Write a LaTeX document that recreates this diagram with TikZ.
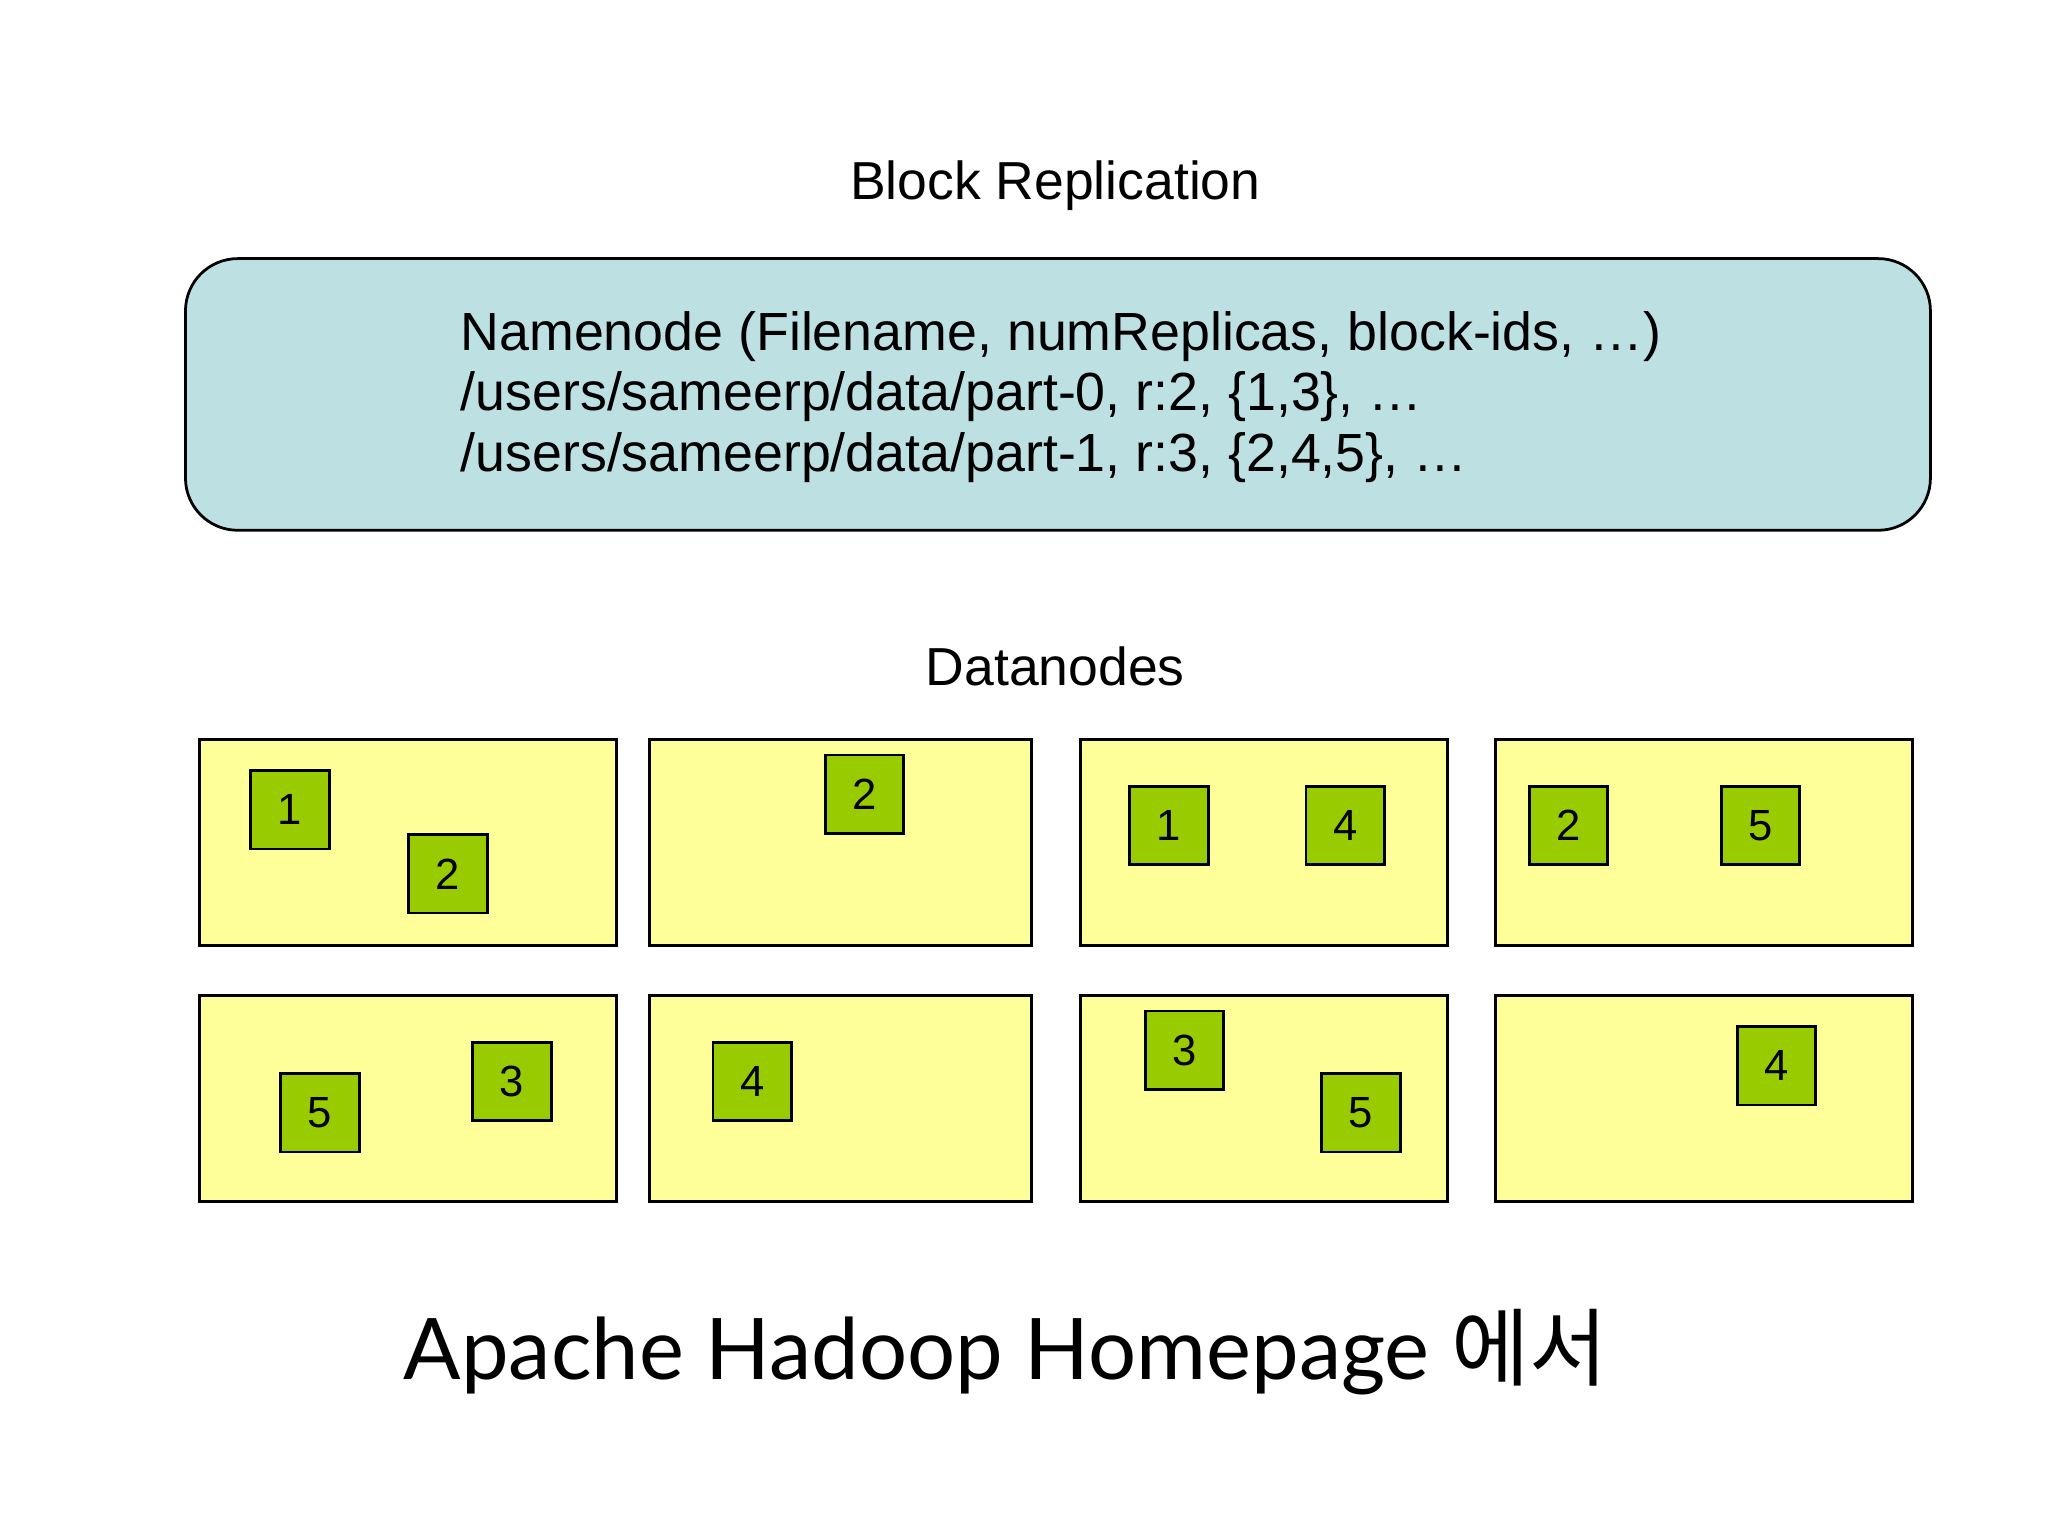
\documentclass[tikz,border=0pt]{standalone}
\usepackage{fontspec}
\setmainfont{Liberation Sans}
\newfontfamily\titlefont{Lato}
\newfontfamily\cjk{Noto Sans CJK KR}
\definecolor{nameblue}{HTML}{BDE0E3}
\definecolor{dnyellow}{HTML}{FFFF99}
\definecolor{blkgreen}{HTML}{99CC00}
\begin{document}
\begin{tikzpicture}[x=0.01cm, y=-0.01cm]
  \tikzset{
    Data/.style={draw, fill=dnyellow, line width=0.6pt},
    Blk/.style={draw, fill=blkgreen, line width=0.6pt, minimum width=0.6cm, minimum height=0.6cm, inner sep=0pt, font=\fontsize{9.5}{10}\selectfont},
    Head/.style={font=\fontsize{11.65}{13}\selectfont}
  }
  \useasboundingbox (0,0) rectangle (1568,1176);

  % namenode
  \draw[fill=nameblue, rounded corners=0.4cm, line width=0.6pt] (142,198) rectangle (1478,406);
  \node[Head] (title) at (808,142) {Block Replication};
  \node[anchor=north west, inner sep=0pt, align=left, font=\fontsize{11.7}{13.1}\selectfont] (nn) at (352,238)
    {Namenode (Filename, numReplicas, block-ids, \ldots)\\
     /users/sameerp/data/part-0, r:2, \{1,3\}, \ldots\\
     /users/sameerp/data/part-1, r:3, \{2,4,5\}, \ldots};

  % datanodes
  \node[Head] (dn) at (808,510) {Datanodes};
  \draw[Data] (153,566) rectangle (472,724);
  \draw[Data] (497,566) rectangle (790,724);
  \draw[Data] (827,566) rectangle (1108,724);
  \draw[Data] (1145,566) rectangle (1464,724);
  \draw[Data] (153,762) rectangle (472,920);
  \draw[Data] (497,762) rectangle (790,920);
  \draw[Data] (827,762) rectangle (1108,920);
  \draw[Data] (1145,762) rectangle (1464,920);

  % blocks
  \node[Blk] (a1) at (222,620) {1};
  \node[Blk] (a2) at (343,669) {2};
  \node[Blk] (b2) at (662,608) {2};
  \node[Blk] (c1) at (895,632) {1};
  \node[Blk] (c4) at (1030,632) {4};
  \node[Blk] (d2) at (1201,632) {2};
  \node[Blk] (d5) at (1348,632) {5};
  \node[Blk] (e5) at (245,852) {5};
  \node[Blk] (e3) at (392,828) {3};
  \node[Blk] (f4) at (576,828) {4};
  \node[Blk] (g3) at (907,804) {3};
  \node[Blk] (g5) at (1042,852) {5};
  \node[Blk] (h4) at (1360,816) {4};

  \node[font=\fontsize{18.5}{22}\selectfont] (src) at (770,1035) {\titlefont Apache Hadoop Homepage {\cjk 에서}};
\end{tikzpicture}
\end{document}
